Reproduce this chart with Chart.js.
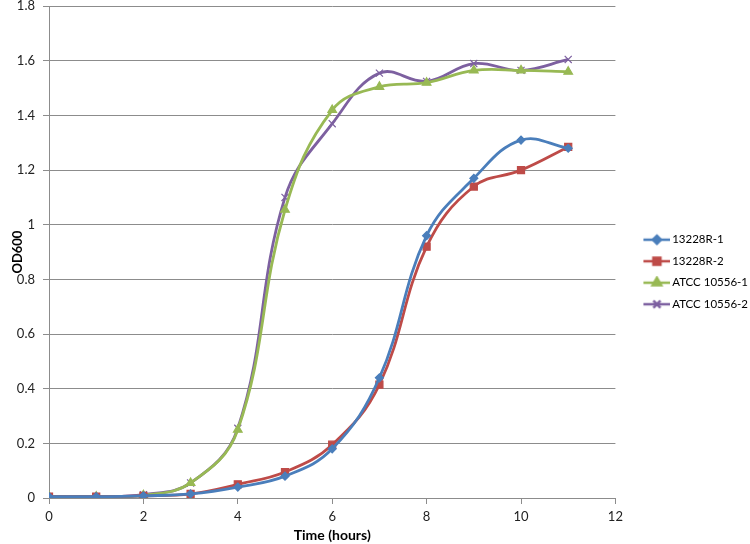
<!DOCTYPE html>
<html>
<head>
<meta charset="utf-8">
<script src="https://cdn.jsdelivr.net/npm/chart.js@4.4.0/dist/chart.umd.min.js"></script>
<style>
  html, body { margin: 0; padding: 0; background: #fff; }
  #wrap { width: 750px; height: 544px; position: relative; }
</style>
</head>
<body>
<div id="wrap"><canvas id="c"></canvas></div>
<script>
const hours = [0, 1, 2, 3, 4, 5, 6, 7, 8, 9, 10, 11];
const r1 = [0.005, 0.005, 0.008, 0.015, 0.04, 0.08, 0.18, 0.44, 0.96, 1.17, 1.31, 1.28];
const r2 = [0.005, 0.005, 0.008, 0.015, 0.05, 0.095, 0.195, 0.415, 0.92, 1.14, 1.20, 1.285];
const atcc1 = [0.005, 0.005, 0.010, 0.055, 0.25, 1.055, 1.42, 1.505, 1.52, 1.565, 1.565, 1.56];
const atcc2 = [0.005, 0.005, 0.012, 0.055, 0.255, 1.10, 1.37, 1.555, 1.525, 1.59, 1.565, 1.605];
const seriesNames = ['13228R-1', '13228R-2', 'ATCC 10556-1', 'ATCC 10556-2'];
const xTicks = [0, 2, 4, 6, 8, 10, 12];
const yTicks = [0, 0.2, 0.4, 0.6, 0.8, 1, 1.2, 1.4, 1.6, 1.8];

const colors = ['#4A7EBB', '#BE4B48', '#98B954', '#7D60A0'];
const styles = ['rectRot', 'rect', 'triangle', 'crossRot'];
const radii = [4, 5, 5, 5];

function legendIcon(i) {
  const cv = document.createElement('canvas');
  cv.width = 49; cv.height = 14;
  const ctx = cv.getContext('2d');
  ctx.strokeStyle = colors[i]; ctx.fillStyle = colors[i];
  ctx.lineWidth = 2.5;
  ctx.beginPath(); ctx.moveTo(22, 7); ctx.lineTo(49, 7); ctx.stroke();
  Chart.helpers.drawPoint(ctx, {pointStyle: styles[i], radius: radii[i], rotation: 0, borderWidth: 1.2}, 35.5, 7);
  ctx.fill();
  return cv;
}

const dataArrs = [r1, r2, atcc1, atcc2];
const datasets = dataArrs.map((arr, i) => ({
  label: seriesNames[i],
  data: hours.map((h, k) => ({x: h, y: arr[k]})),
  borderColor: colors[i],
  backgroundColor: colors[i],
  borderWidth: 2.8,
  pointStyle: styles[i],
  pointRadius: radii[i],
  pointBorderWidth: 1.2,
  pointBorderColor: colors[i],
  pointBackgroundColor: colors[i],
  tension: 0.4,
  cubicInterpolationMode: 'default',
  fill: false
}));

const font = 'Lato, "Open Sans", sans-serif';
const chart = new Chart(document.getElementById('c'), {
  type: 'line',
  data: { datasets },
  options: {
    responsive: true,
    maintainAspectRatio: false,
    animation: false,
    layout: { padding: { left: 0, right: -8, top: 0, bottom: 0 } },
    plugins: {
      tooltip: { enabled: false },
      legend: {
        position: 'right',
        labels: {
          usePointStyle: true,
          pointStyleWidth: 41,
          boxHeight: 14,
          padding: 10,
          color: '#222',
          font: { family: font, size: 11.5 },
          generateLabels: (ch) => ch.data.datasets.map((ds, i) => ({
            text: ds.label,
            pointStyle: legendIcon(i),
            fillStyle: colors[i],
            strokeStyle: colors[i],
            lineWidth: 0,
            datasetIndex: i,
            hidden: false
          }))
        }
      }
    },
    scales: {
      x: {
        type: 'linear',
        min: 0, max: 12,
        afterBuildTicks: (s) => { s.ticks = xTicks.map(v => ({value: v})); },
        afterFit: (s) => { s.height = 46; },
        grid: { drawOnChartArea: false, drawTicks: true, tickLength: 6, color: '#8c8c8c' },
        border: { color: '#8c8c8c' },
        ticks: { color: '#222', font: { family: font, size: 13 }, padding: 5, maxRotation: 0 },
        title: { display: true, text: 'Time (hours)', color: '#000', font: { family: font, size: 14, weight: 'bold' }, padding: { top: 0, bottom: 0 } }
      },
      y: {
        type: 'linear',
        min: 0, max: 1.8,
        afterBuildTicks: (s) => { s.ticks = yTicks.map(v => ({value: v})); },
        afterFit: (s) => { s.width = 49; s.paddingTop = 6; s.paddingBottom = 6; },
        grid: { drawTicks: true, tickLength: 6, color: '#8c8c8c' },
        border: { color: '#8c8c8c' },
        ticks: { color: '#222', font: { family: font, size: 13 }, padding: 8,
          callback: (v) => String(Math.round(v * 10) / 10) },
        title: { display: true, text: 'OD600', color: '#000', font: { family: font, size: 13, weight: 'bold' }, padding: { top: 10, bottom: 0 } }
      }
    }
  }
});
</script>
</body>
</html>
